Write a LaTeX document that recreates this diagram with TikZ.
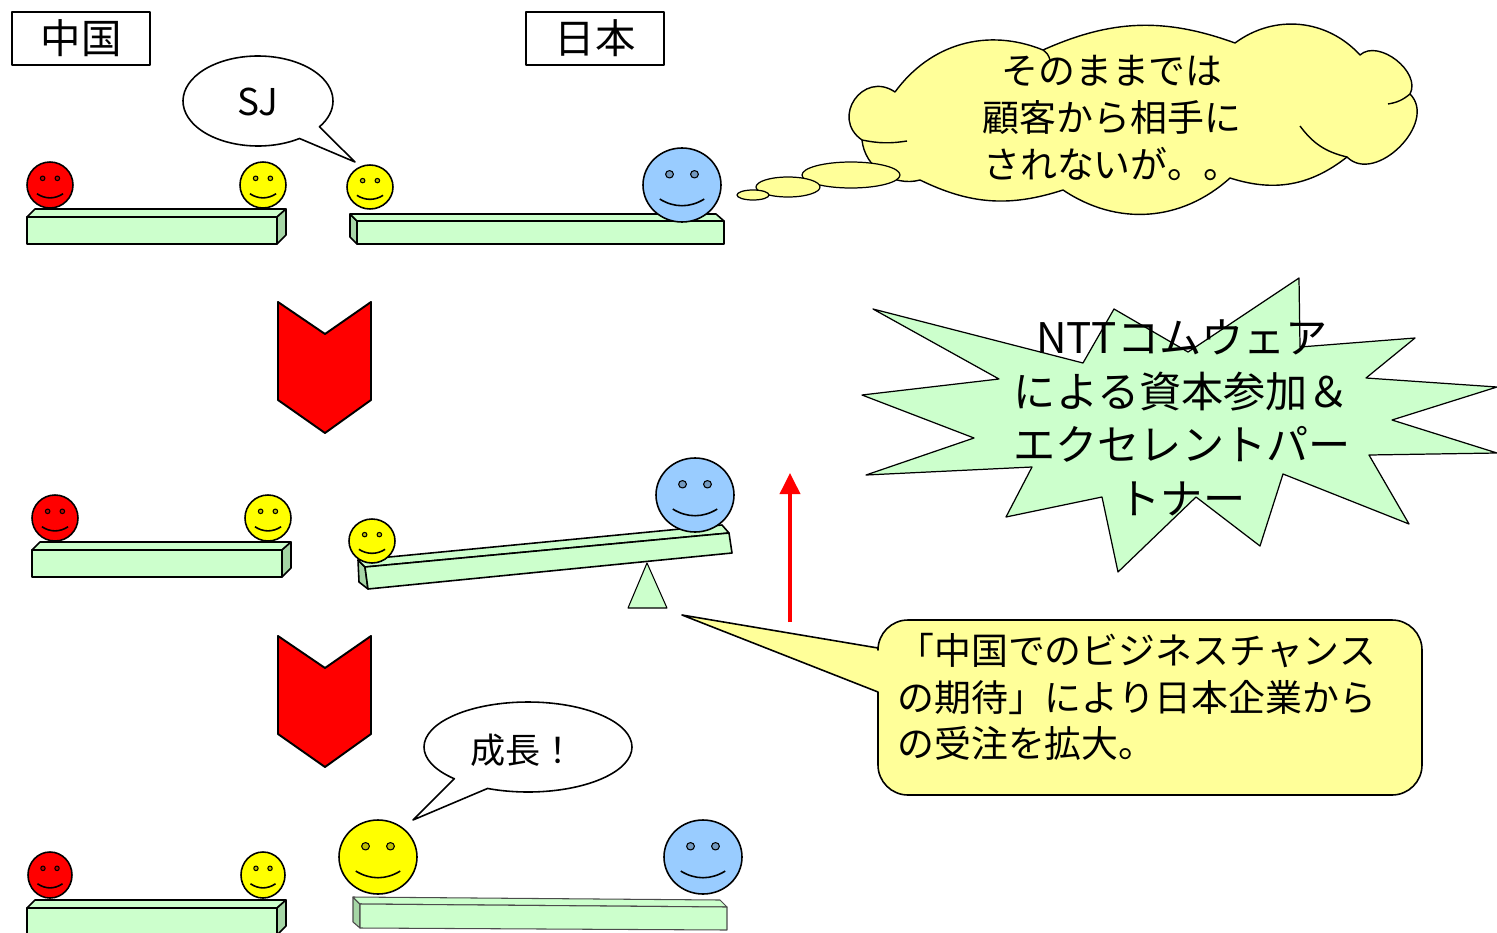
\documentclass[tikz,border=0pt]{standalone}
\usepackage{fontspec}
\setmainfont{Noto Sans CJK JP}
\usetikzlibrary{arrows.meta}

\definecolor{plankgreen}{HTML}{CCFFCC}
\definecolor{plankshade}{HTML}{A6D6A6}
\definecolor{facered}{HTML}{FF0000}
\definecolor{faceyellow}{HTML}{FFFF00}
\definecolor{faceblue}{HTML}{99CCFF}
\definecolor{noteyellow}{HTML}{FFFF99}

% smiley: name, centre, x-radius, y-radius, colour
\newcommand{\smiley}[5]{%
  \begin{scope}[shift={#2}]
    \coordinate (#1) at (0,0);
    \draw[facebody, fill=#5] (0,0) ellipse ({#3} and {#4});
    \draw[faceeye, fill=#5!75!black] (-0.32*#3,-0.29*#4) ellipse ({0.1*#3} and {0.1*#4});
    \draw[faceeye, fill=#5!75!black] (0.32*#3,-0.29*#4) ellipse ({0.1*#3} and {0.1*#4});
    \draw[facebody] (-0.57*#3,0.38*#4) .. controls (-0.2*#3,0.62*#4) and (0.2*#3,0.62*#4) .. (0.57*#3,0.38*#4);
  \end{scope}}

% short plank on the China side, origin = front top-left corner
\newcommand{\shortplank}[1]{%
  \begin{scope}[shift={#1}]
    \draw[plank] (0,0) rectangle (250,27);
    \draw[plank] (0,0) -- (8,-8) -- (259,-8) -- (250,0) -- cycle;
    \draw[plankend] (250,0) -- (259,-8) -- (259,18) -- (250,27) -- cycle;
  \end{scope}}

% down chevron, origin = top-left corner
\newcommand{\chevron}[1]{%
  \begin{scope}[shift={#1}]
    \draw[chevronred] (0,0) -- (47,32) -- (93,0) -- (93,98) -- (47,131) -- (0,98) -- cycle;
  \end{scope}}

\begin{document}
\begin{tikzpicture}[x=0.2mm, y=-0.2mm, line join=round,
  facebody/.style={draw=black, line width=0.9pt},
  faceeye/.style={draw=black, line width=0.6pt},
  plank/.style={draw=black, line width=0.9pt, fill=plankgreen},
  plankend/.style={draw=black, line width=0.9pt, fill=plankshade},
  softplank/.style={draw=black!70, line width=0.6pt, fill=plankgreen},
  softend/.style={draw=black!70, line width=0.6pt, fill=plankshade},
  chevronred/.style={draw=black, line width=1.1pt, fill=facered},
  countrybox/.style={draw, line width=0.9pt, minimum width=27.6mm, minimum height=10.6mm,
    inner sep=0pt, font=\fontsize{23pt}{28pt}\selectfont},
  talk/.style={draw, line width=0.9pt, fill=white},
  note/.style={draw, line width=0.9pt, fill=noteyellow},
  bigtext/.style={font=\fontsize{21pt}{26.6pt}\selectfont, inner sep=0pt},
  bursttext/.style={font=\fontsize{24pt}{30.4pt}\selectfont, inner sep=0pt, align=center},
  liftarrow/.style={draw=facered, line width=0.75mm, -{Triangle[length=4.2mm, width=4mm]}}
]
\useasboundingbox (0,0) rectangle (1497,932);

% country labels
\node[countrybox] (china) at (81,38.5) {中国};
\node[countrybox] (japan) at (595,38.5) {日本};

% ---- row 1: before
\shortplank{(27,217)}
\draw[plankend] (350,214) -- (357,221) -- (357,244) -- (350,237) -- cycle;
\draw[plank] (350,214) -- (716,214) -- (724,221) -- (357,221) -- cycle;
\draw[plank] (357,221) rectangle (724,244);
\smiley{cn1}{(50,185)}{23}{23}{facered}
\smiley{sj1}{(263,185)}{23}{23}{faceyellow}
\smiley{sja}{(370,187)}{23}{22}{faceyellow}
\smiley{jp1}{(682,185)}{39}{37}{faceblue}

\coordinate (sjtip) at (355,162);
\draw[talk] (258,101) ++(56.4:75 and 45)
  arc[start angle=56.4, end angle=395, x radius=75, y radius=45] -- (sjtip) -- cycle;
\node[bigtext] (sjsays) at (258,102) {SJ};

% thought cloud, bump by bump
\draw[note, line width=0.8pt] (862,140)
  to[bend left=90, looseness=1.7] (895,92)
  to[bend left=38] (1043,50)
  to[bend left=22] (1235,43)
  to[bend left=42] (1360,55)
  to[bend left=80] (1410,94)
  to[bend left=90, looseness=1.15] (1347,157)
  to[bend left=28] (1230,178)
  to[bend left=38] (1063,190)
  to[bend left=22] (920,180)
  to[bend left=50] (862,140) -- cycle;
\draw[line width=0.8pt] (862,140) to[bend right=10] (907,141);
\draw[line width=0.8pt] (1410,94) to[bend left=15] (1388,104);
\draw[line width=0.8pt] (1347,157) to[bend left=20] (1300,126);
\draw[line width=0.8pt] (1043,50) to[bend left=20] (1050,60);
\draw[note, line width=0.7pt] (851,175) ellipse (49 and 13);
\draw[note, line width=0.7pt] (788,187) ellipse (32 and 10);
\draw[note, line width=0.7pt] (753,195) ellipse (16 and 5);
\node[bigtext, align=center] (worrytext) at (1112,118) {そのままでは\\顧客から相手に\\されないが。。};

% ---- step arrows
\chevron{(278,302)}
\chevron{(278,636)}

% ---- row 2: seesaw
\shortplank{(32,550)}
\smiley{cn2}{(55,518)}{23}{23}{facered}
\smiley{sj2}{(268,518)}{23}{23}{faceyellow}
\draw[plank, line width=0.6pt] (647,563) -- (667,608) -- (628,608) -- cycle;
\draw[plankend] (358,560) -- (365,567) -- (368,589) -- (359,582) -- cycle;
\draw[plank] (358,560) -- (722,525) -- (729,533) -- (365,567) -- cycle;
\draw[plank] (365,567) -- (729,533) -- (732,553) -- (368,589) -- cycle;
\smiley{sjb}{(372,541)}{23}{22}{faceyellow}
\smiley{jp2}{(695,495)}{39}{37}{faceblue}

\coordinate (liftfrom) at (790,622);
\coordinate (liftto) at (790,473);
\draw[liftarrow] (liftfrom) -- (liftto);

% starburst
\draw[plank, line width=0.7pt] (873,309) -- (1083,363) -- (1114,309) -- (1188,352) -- (1299,278)
  -- (1300,347) -- (1415,338) -- (1366,378) -- (1497,387) -- (1392,420) -- (1497,453)
  -- (1369,455) -- (1409,524) -- (1283,474) -- (1260,546) -- (1196,497) -- (1118,572)
  -- (1102,497) -- (1006,517) -- (1032,467) -- (866,475) -- (974,438) -- (862,395)
  -- (999,379) -- cycle;
\node[bursttext] (capital) at (1182,418) {NTTコムウェア\\による資本参加＆\\エクセレントパー\\トナー};

% callout
\coordinate (calltip) at (682,615);
\draw[note] (calltip) -- (878,648) [rounded corners=6mm] -- (878,620) -- (1422,620)
  -- (1422,795) -- (878,795) [sharp corners] -- (878,692) -- cycle;
\node[bigtext, align=left, anchor=west] (expect) at (897,697)
  {「中国でのビジネスチャンス\\の期待」により日本企業から\\の受注を拡大。};

% ---- row 3: growth
\shortplank{(27,908)}
\smiley{cn3}{(50,875)}{22}{23}{facered}
\smiley{sj3}{(263,875)}{22}{23}{faceyellow}
\draw[softend] (353,897) -- (360,904) -- (360,928) -- (353,922) -- cycle;
\draw[softplank] (353,897) -- (720,900) -- (727,907) -- (360,904) -- cycle;
\draw[softplank] (360,904) -- (727,907) -- (727,930) -- (360,928) -- cycle;
\smiley{sjc}{(378,857)}{39}{37}{faceyellow}
\smiley{jp3}{(703,857)}{39}{37}{faceblue}

\coordinate (growtip) at (413,820);
\draw[talk] (528,747) ++(135.1:104 and 45)
  arc[start angle=135.1, end angle=472.9, x radius=104, y radius=45] -- (growtip) -- cycle;
\node[bigtext, font=\fontsize{20pt}{24pt}\selectfont] (growth) at (523,750) {成長！};
\end{tikzpicture}
\end{document}
